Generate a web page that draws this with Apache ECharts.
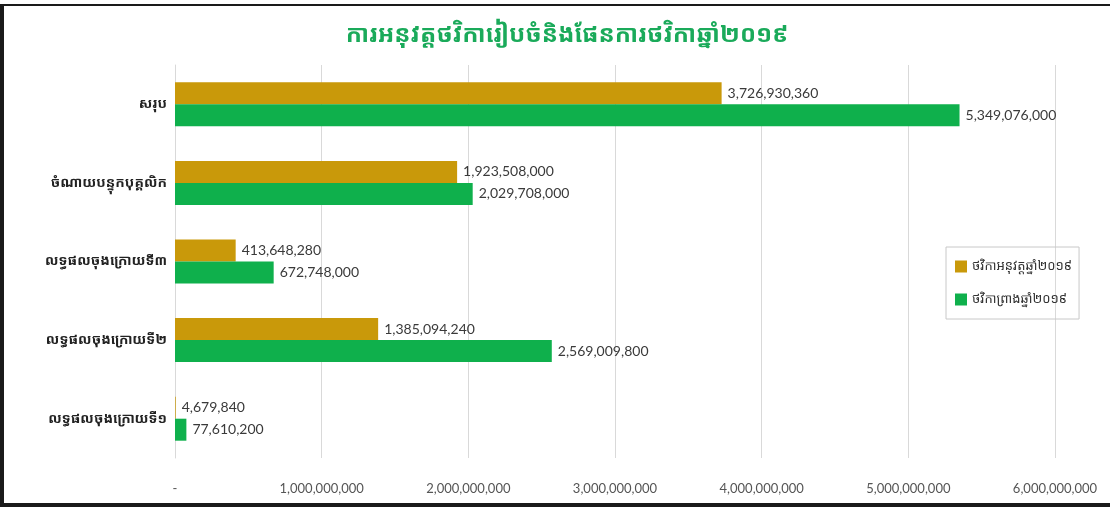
<!DOCTYPE html>
<html>
<head>
<meta charset="utf-8">
<script src="https://cdn.jsdelivr.net/npm/echarts@6/dist/echarts.min.js"></script>
<style>
  html, body { margin: 0; padding: 0; background: #fff; }
  #frame {
    position: absolute; left: 0; top: 4px; width: 1110px; height: 503px;
    box-sizing: border-box;
    border-top: 2px solid #1a1a1a; border-left: 4px solid #1a1a1a; border-bottom: 4px solid #1a1a1a;
  }
  #chart { position: absolute; left: 0; top: 0; width: 1110px; height: 510px; }
</style>
</head>
<body>
<div id="frame"></div>
<div id="chart"></div>
<script>
// Categories listed bottom-to-top along the value axis
const categories = [
  'លទ្ធផលចុងក្រោយទី១',
  'លទ្ធផលចុងក្រោយទី២',
  'លទ្ធផលចុងក្រោយទី៣',
  'ចំណាយបន្ទុកបុគ្គលិក',
  'សរុប'
];
const actualName = 'ថវិកាអនុវត្តឆ្នាំ២០១៩';
const draftName = 'ថវិកាព្រាងឆ្នាំ២០១៩';
const actualValues = [4679840, 1385094240, 413648280, 1923508000, 3726930360];
const draftValues = [77610200, 2569009800, 672748000, 2029708000, 5349076000];
const titleText = 'ការអនុវត្តថវិការៀបចំនិងផែនការថវិកាឆ្នាំ២០១៩';

const khmerFont = '"Noto Sans Khmer", "Khmer OS", "Noto Sans", "DejaVu Sans", sans-serif';
const numFont = 'Lato, "Noto Sans", sans-serif';

const fmt = v => v === 0 ? '-' : v.toLocaleString('en-US');

const valueLabel = {
  show: true, position: 'right', distance: 6, formatter: p => fmt(p.value),
  color: '#3a3a3a', fontSize: 14, fontFamily: numFont
};

const chart = echarts.init(document.getElementById('chart'), null, { renderer: 'canvas' });
chart.setOption({
  backgroundColor: 'transparent',
  animation: false,
  title: {
    text: titleText,
    left: 562, top: 18, textAlign: 'center',
    textStyle: { color: '#1aaa5a', fontSize: 24, fontWeight: 'bold', fontFamily: khmerFont }
  },
  legend: {
    data: [actualName, draftName],
    orient: 'vertical',
    left: 946, top: 247,
    itemWidth: 12, itemHeight: 12, itemGap: 20,
    itemStyle: { borderWidth: 0 },
    icon: 'rect',
    padding: [13, 7, 13, 9],
    borderColor: '#c8c8c8', borderWidth: 1,
    textStyle: { fontFamily: khmerFont, fontSize: 13, color: '#333' }
  },
  grid: { left: 175, right: 55, top: 65, bottom: 52, containLabel: false },
  xAxis: {
    type: 'value', min: 0, max: 6000000000, interval: 1000000000,
    axisLine: { show: false }, axisTick: { show: false },
    splitLine: { lineStyle: { color: '#d9d9d9', width: 1 } },
    axisLabel: { formatter: fmt, margin: 24, color: '#555', fontSize: 13, fontFamily: numFont }
  },
  yAxis: {
    type: 'category', data: categories,
    axisLine: { show: true, lineStyle: { color: '#d9d9d9' } },
    axisTick: { show: false },
    axisLabel: { color: '#222', fontSize: 14, fontWeight: 'bold', fontFamily: khmerFont, margin: 8 }
  },
  series: [
    {
      name: actualName, type: 'bar', data: actualValues,
      barWidth: 22, barGap: '0%', barCategoryGap: '44%',
      itemStyle: { color: '#c9990a' },
      label: valueLabel
    },
    {
      name: draftName, type: 'bar', data: draftValues,
      barWidth: 22, barGap: '0%',
      itemStyle: { color: '#0fb04c' },
      label: valueLabel
    }
  ]
});
</script>
</body>
</html>
